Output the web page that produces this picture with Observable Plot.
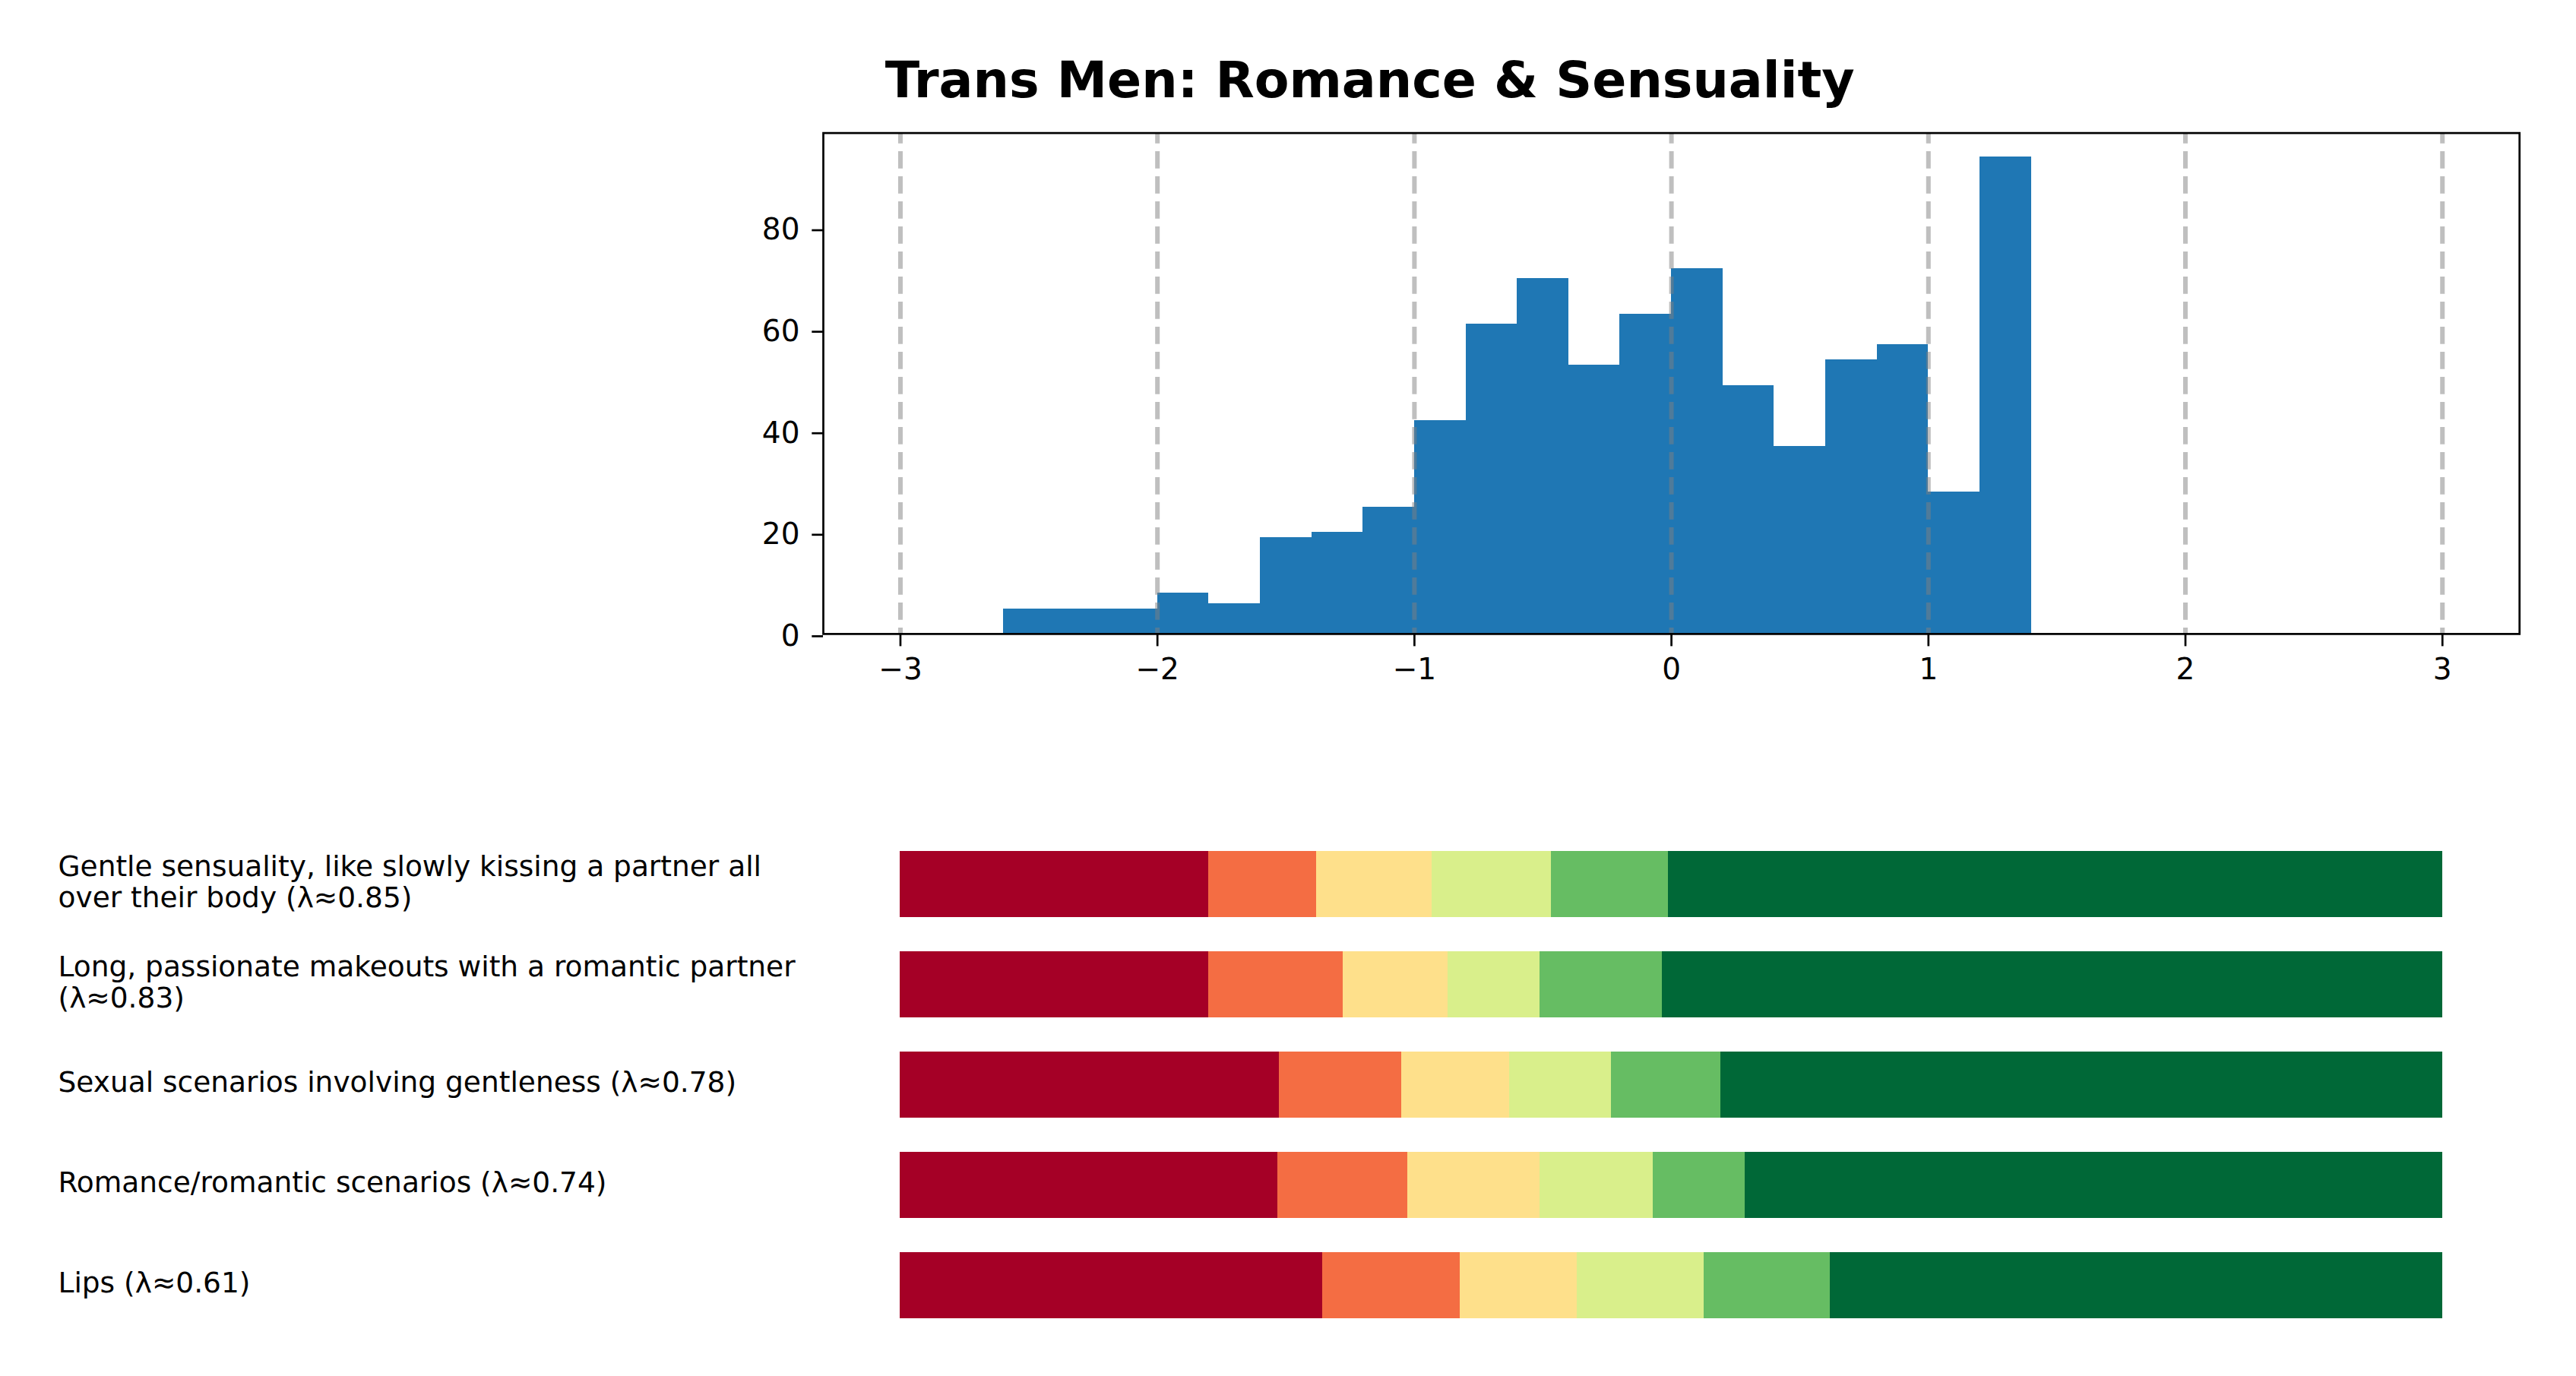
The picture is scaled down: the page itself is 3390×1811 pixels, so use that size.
<!DOCTYPE html>
<html>
<head>
<meta charset="utf-8">
<script src="https://cdn.jsdelivr.net/npm/d3@7"></script>
<script src="https://cdn.jsdelivr.net/npm/@observablehq/plot@0.6"></script>
<style>
  html, body { margin: 0; padding: 0; background: white; overflow: hidden; }
  #root { position: relative; width: 3390px; height: 1811px; background: white; font-family: "DejaVu Sans", sans-serif; }
  #title { position: absolute; left: 1802.7px; top: 71.5px; transform: translateX(-50%); white-space: nowrap;
           font-family: "DejaVu Sans", sans-serif; font-weight: bold; font-size: 66.6px; line-height: 67px; color: black; }
  #hist, #bars { position: absolute; left: 0; }
  #hist { top: 0; }
  #bars { top: 958px; }
</style>
</head>
<body>
<div id="root">
  <div id="title">Trans Men: Romance &amp; Sensuality</div>
  <div id="hist"></div>
  <div id="bars"></div>
</div>
<script>
// ---- Histogram data ----
const binEdges = [-2.6, -2.4, -2.2, -2.0, -1.8, -1.6, -1.4, -1.2, -1.0, -0.8, -0.6, -0.4, -0.2, 0.0, 0.2, 0.4, 0.6, 0.8, 1.0, 1.2, 1.4];
const counts   = [5, 5, 5, 8, 6, 19, 20, 25, 42, 61, 70, 53, 63, 72, 49, 37, 54, 57, 28, 94];
const xTicks = [-3, -2, -1, 0, 1, 2, 3];
const yTicks = [0, 20, 40, 60, 80];

// ---- Stacked bar data (percent of respondents per rating level) ----
const items = [
  "Gentle sensuality, like slowly kissing a partner all over their body (λ≈0.85)",
  "Long, passionate makeouts with a romantic partner (λ≈0.83)",
  "Sexual scenarios involving gentleness (λ≈0.78)",
  "Romance/romantic scenarios (λ≈0.74)",
  "Lips (λ≈0.61)"
];
const levels = ["1", "2", "3", "4", "5", "6"];
const levelColors = ["#a50026", "#f46d43", "#fee08b", "#d9ef8b", "#66bd63", "#006837"];
const level1 = [20.0, 20.0, 24.6, 24.5, 27.4];
const level2 = [7.0, 8.7, 7.9, 8.4, 8.9];
const level3 = [7.5, 6.8, 7.0, 8.6, 7.6];
const level4 = [7.7, 6.0, 6.6, 7.3, 8.2];
const level5 = [7.6, 7.9, 7.1, 6.0, 8.2];
const level6 = [50.2, 50.6, 46.8, 45.2, 39.7];
const levelShares = [level1, level2, level3, level4, level5, level6];

// ---- Build tables ----
const bins = counts.map((c, i) => ({x1: binEdges[i], x2: binEdges[i + 1], count: c}));
const rows = items.flatMap((item, i) => levels.map((lv, j) => ({item, level: lv, share: levelShares[j][i]})));

function wrap(s, width = 55) {
  const words = s.split(" ");
  const lines = [];
  let cur = "";
  for (const w of words) {
    if (cur === "") cur = w;
    else if ((cur + " " + w).length <= width) cur += " " + w;
    else { lines.push(cur); cur = w; }
  }
  if (cur) lines.push(cur);
  return lines.join("\n");
}

const fmt = d3.format("d");

const hist = Plot.plot({
  width: 3390,
  height: 960,
  marginLeft: 1083,
  marginRight: 74.8,
  marginTop: 174.6,
  marginBottom: 126.1,
  style: {fontFamily: "DejaVu Sans", fontSize: "39px", color: "black", background: "transparent", overflow: "visible"},
  x: {domain: [-3.3, 3.3]},
  y: {domain: [0, 98.7]},
  marks: [
    Plot.rectY(bins, {x1: "x1", x2: "x2", y: "count", fill: "#1f77b4", inset: 0, shapeRendering: "crispEdges"}),
    Plot.ruleX(xTicks, {stroke: "#808080", strokeOpacity: 0.5, strokeWidth: 6, strokeDasharray: "22.7,10.3", strokeDashoffset: 8.6}),
    Plot.frame({stroke: "black", strokeWidth: 2.7}),
    Plot.axisX(xTicks, {tickSize: 16.5, tickPadding: 15.5, tickFormat: fmt, strokeWidth: 2.7, stroke: "black", fill: "black", fontSize: 39, label: null}),
    Plot.axisY(yTicks, {tickSize: 14.7, tickPadding: 16.3, tickFormat: fmt, strokeWidth: 2.7, stroke: "black", fill: "black", fontSize: 39, dy: 3, label: null})
  ]
});
document.getElementById("hist").appendChild(hist);

const bars = Plot.plot({
  width: 3390,
  height: 853,
  marginLeft: 1184,
  marginRight: 176.2,
  marginTop: 160.1,
  marginBottom: 74.4,
  style: {fontFamily: "DejaVu Sans", fontSize: "37.5px", color: "black", background: "transparent", overflow: "visible"},
  x: {domain: [0, 1], axis: null},
  y: {domain: items, paddingInner: 0.339, paddingOuter: 0, axis: null},
  color: {domain: levels, range: levelColors},
  marks: [
    Plot.barX(rows, Plot.stackX({x: "share", y: "item", fill: "level", offset: "normalize", order: null, shapeRendering: "crispEdges"})),
    Plot.text(items, {y: (d) => d, frameAnchor: "left", textAnchor: "start", dx: 76 - 1184, dy: -4, text: (d) => wrap(d), lineHeight: 1.11, fontSize: 37.5, fill: "black"})
  ]
});
document.getElementById("bars").appendChild(bars);
</script>
</body>
</html>
